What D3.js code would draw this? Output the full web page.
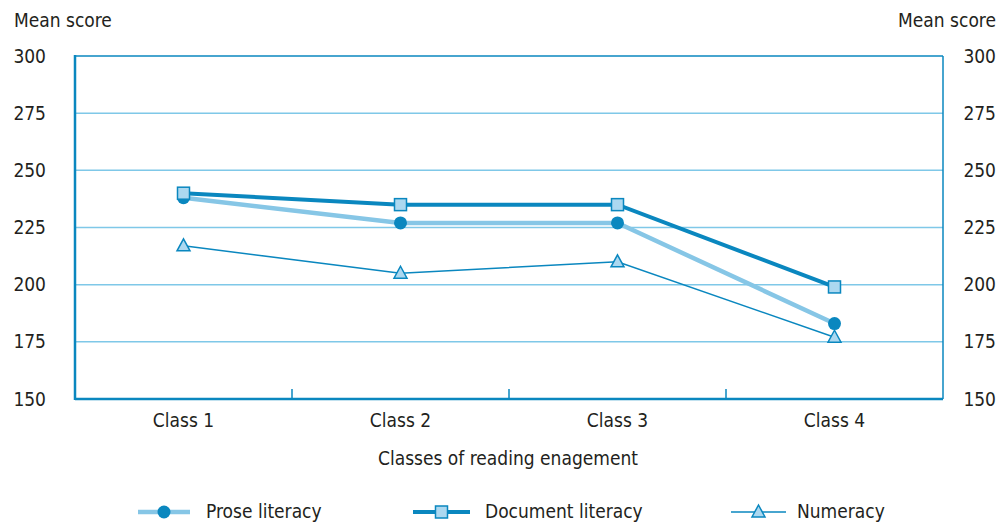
<!DOCTYPE html>
<html><head><meta charset="utf-8">
<script src="https://cdn.jsdelivr.net/npm/d3@7"></script>
<style>
html,body{margin:0;padding:0;background:#fff;}
text{font-family:"Liberation Sans Narrow","Arial Narrow","DejaVu Sans Condensed",sans-serif;fill:#231f20;}
</style></head>
<body><svg id="c" width="998" height="522"></svg>
<script>
const categories = ["Class 1","Class 2","Class 3","Class 4"];
const prose = [238, 227, 227, 183];
const documentLit = [240, 235, 235, 199];
const numeracy = [217, 205, 210, 177];
const yTicks = [150,175,200,225,250,275,300];
const seriesNames = ["Prose literacy","Document literacy","Numeracy"];

const dark = "#0a87bf", light = "#86c6e6", fillL = "#acd8f0", grid = "#7fc8e8";
const svg = d3.select("#c");
const L = 75, R = 943, T = 56, B = 399;
const x = d3.scaleBand().domain(categories).range([L, R]);
const y = d3.scaleLinear().domain([150, 300]).range([B, T]);
const fs = 19;

// grid
svg.append("g").selectAll("line").data(yTicks.filter(v => v > 150 && v < 300)).join("line")
  .attr("x1", L).attr("x2", R).attr("y1", d => y(d)).attr("y2", d => y(d))
  .attr("stroke", grid).attr("stroke-width", 1.5);
// frame
svg.append("line").attr("x1", L).attr("x2", R).attr("y1", T).attr("y2", T).attr("stroke", dark).attr("stroke-width", 1.5);
svg.append("line").attr("x1", R).attr("x2", R).attr("y1", T).attr("y2", B).attr("stroke", dark).attr("stroke-width", 1.5);
// bottom axis
const xa = svg.append("g").attr("transform", `translate(0,${B})`)
  .call(d3.axisBottom(x).tickSize(0).tickPadding(15));
xa.select(".domain").remove();
xa.selectAll("text").attr("font-size", fs).style("font-family", null);
svg.append("g").selectAll("line").data(categories.slice(1)).join("line")
  .attr("x1", d => x(d)).attr("x2", d => x(d)).attr("y1", B - 10).attr("y2", B)
  .attr("stroke", dark).attr("stroke-width", 1.5);
svg.append("line").attr("x1", L).attr("x2", R).attr("y1", B).attr("y2", B).attr("stroke", dark).attr("stroke-width", 2.5);
svg.append("line").attr("x1", L).attr("x2", L).attr("y1", T - 1).attr("y2", B + 1).attr("stroke", dark).attr("stroke-width", 2.5);

// y axes
const ya = svg.append("g").attr("transform", `translate(46,0)`)
  .call(d3.axisLeft(y).tickValues(yTicks).tickSize(0).tickPadding(0));
ya.select(".domain").remove();
ya.selectAll("text").attr("font-size", fs).style("font-family", null);
const yb = svg.append("g").attr("transform", `translate(996,0)`)
  .call(d3.axisLeft(y).tickValues(yTicks).tickSize(0).tickPadding(0));
yb.select(".domain").remove();
yb.selectAll("text").attr("font-size", fs).style("font-family", null);

svg.append("text").attr("x", 14).attr("y", 27).attr("font-size", fs).text("Mean score");
svg.append("text").attr("x", 996).attr("y", 27).attr("text-anchor", "end").attr("font-size", fs).text("Mean score");
svg.append("text").attr("x", 508).attr("y", 465).attr("text-anchor", "middle").attr("font-size", fs).text("Classes of reading enagement");

const cx = d => x(d) + x.bandwidth() / 2;
const line = d3.line().x((d, i) => cx(categories[i])).y(d => y(d));

const series = [
  {name: seriesNames[0], vals: prose, color: light, w: 4.5, marker: "circle"},
  {name: seriesNames[1], vals: documentLit, color: dark, w: 4, marker: "square"},
  {name: seriesNames[2], vals: numeracy, color: dark, w: 1.5, marker: "triangle"}
];
function drawMarker(g, type, px, py) {
  if (type === "circle") g.append("circle").attr("cx", px).attr("cy", py).attr("r", 6.5).attr("fill", dark);
  else if (type === "square") g.append("rect").attr("x", px - 6).attr("y", py - 6).attr("width", 12).attr("height", 12)
    .attr("fill", fillL).attr("stroke", dark).attr("stroke-width", 1.5);
  else g.append("path").attr("d", `M${px},${py - 7}L${px + 6.5},${py + 5}L${px - 6.5},${py + 5}Z`)
    .attr("fill", fillL).attr("stroke", dark).attr("stroke-width", 1.5);
}
[2, 0, 1].forEach(k => {
  const s = series[k];
  svg.append("path").attr("d", line(s.vals)).attr("fill", "none").attr("stroke", s.color).attr("stroke-width", s.w);
});
[2, 0, 1].forEach(k => {
  const s = series[k];
  const g = svg.append("g");
  s.vals.forEach((v, i) => drawMarker(g, s.marker, cx(categories[i]), y(v)));
});

// legend
const legLine = [[138, 190], [413, 470], [731, 786]];
const legText = [206, 485, 797];
const lg = svg.append("g");
series.forEach((s, k) => {
  const [x0, x1] = legLine[k], ly = 512;
  lg.append("line").attr("x1", x0).attr("x2", x1).attr("y1", ly).attr("y2", ly).attr("stroke", s.color).attr("stroke-width", s.w);
  drawMarker(lg, s.marker, (x0 + x1) / 2, ly);
  lg.append("text").attr("x", legText[k]).attr("y", ly + 6).attr("font-size", fs).text(s.name);
});
</script></body></html>
